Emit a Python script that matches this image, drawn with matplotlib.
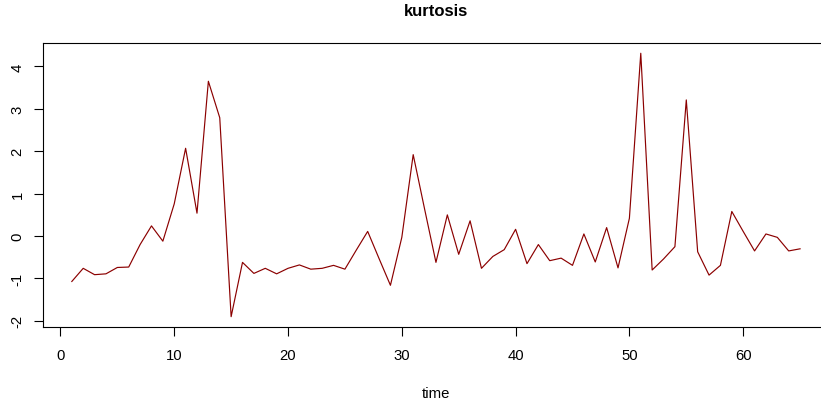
import matplotlib
matplotlib.use("Agg")
import matplotlib.pyplot as plt
import numpy as np

# kurtosis values, one per time step
time = np.arange(1, 66)
kurtosis = [-1.07, -0.76, -0.91, -0.89, -0.74, -0.73, -0.20, 0.24, -0.12, 0.76,
            2.07, 0.54, 3.65, 2.79, -1.90, -0.62, -0.88, -0.76, -0.89, -0.76,
            -0.68, -0.78, -0.76, -0.69, -0.78, -0.33, 0.11, -0.53, -1.16, -0.03,
            1.92, 0.64, -0.62, 0.50, -0.43, 0.36, -0.76, -0.48, -0.32, 0.16,
            -0.65, -0.20, -0.58, -0.52, -0.69, 0.05, -0.61, 0.20, -0.75, 0.42,
            4.31, -0.80, -0.54, -0.25, 3.21, -0.37, -0.92, -0.69, 0.58, 0.11,
            -0.35, 0.05, -0.03, -0.35, -0.30]
xticks = [0, 10, 20, 30, 40, 50, 60]
yticks = [-2, -1, 0, 1, 2, 3, 4]

plt.rcParams['font.family'] = ['Liberation Sans', 'DejaVu Sans']

fig = plt.figure(figsize=(8.21, 4.06), dpi=100)
# box runs past the right edge of the picture, as in the reference
ax = fig.add_axes([0.052, 0.1916, 0.958, 0.7007])
ax.plot(time, kurtosis, color='#8B0000', lw=0.85)

# R style 4% padding
xr = max(time) - min(time)
ax.set_xlim(min(time) - 0.04 * xr, max(time) + 0.04 * xr)
yr = max(kurtosis) - min(kurtosis)
ax.set_ylim(min(kurtosis) - 0.04 * yr, max(kurtosis) + 0.04 * yr)

ax.set_xticks(xticks)
ax.set_yticks(yticks)
ax.set_yticklabels([str(v) for v in yticks], rotation=90, va='center')
ax.tick_params(direction='out', length=6.5, width=0.8, labelsize=10.7, pad=8.5)
ax.tick_params(axis='y', pad=6.5)
for s in ax.spines.values():
    s.set_linewidth(0.8)

ax.set_xlabel('time', fontsize=10.7, labelpad=17)
fig.text(0.531, 0.99, 'kurtosis', ha='center', va='top', fontsize=12, fontweight='bold')

fig.savefig('out.png', dpi=100)
